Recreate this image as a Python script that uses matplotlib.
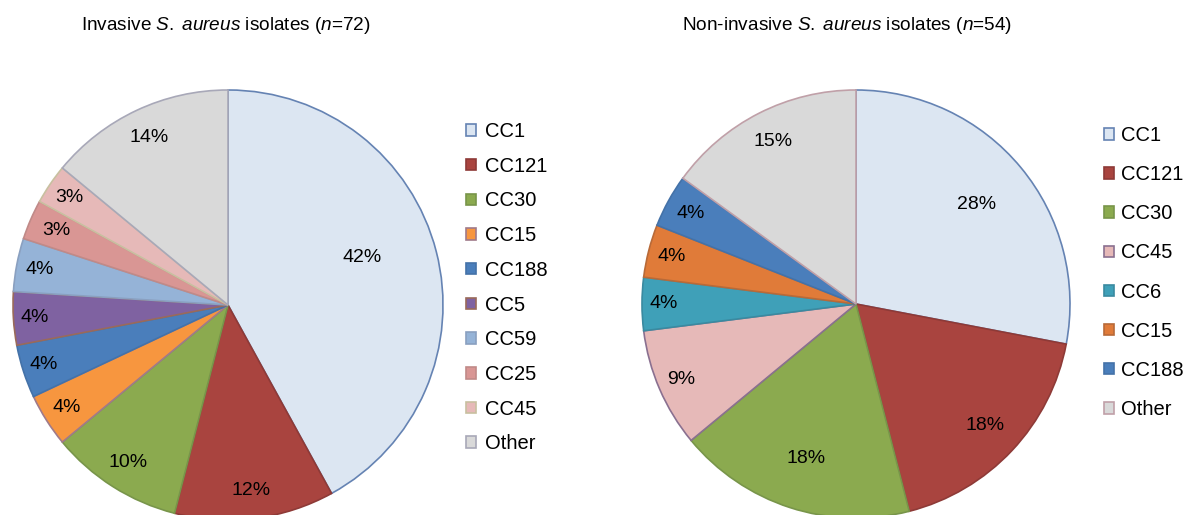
import matplotlib.pyplot as plt
import numpy as np

plt.rcParams['font.family'] = ['Liberation Sans', 'DejaVu Sans']
plt.rcParams['mathtext.fontset'] = 'custom'
plt.rcParams['mathtext.rm'] = 'Liberation Sans'
plt.rcParams['mathtext.it'] = 'Liberation Sans:italic'

W, H = 1183, 515

# invasive isolates
inv_labels = ['CC1', 'CC121', 'CC30', 'CC15', 'CC188', 'CC5', 'CC59', 'CC25', 'CC45', 'Other']
inv_pct = [42, 12, 10, 4, 4, 4, 4, 3, 3, 14]
inv_colors = ['#dce6f2', '#a9443f', '#8baa4f', '#f7963f', '#4a7ebb',
              '#7f62a1', '#95b3d7', '#d99694', '#e6b9b8', '#d9d9d9']
inv_edges = ['#6583b3', '#8e3a37', '#78954a', '#a07a8a', '#4472a8',
             '#9a6a5a', '#8aa0c0', '#c08a88', '#c8c0a0', '#a8a8b8']
# label distance (fraction of radius) and angle nudge (deg)
inv_dist = [0.66, 0.87, 0.87, 0.89, 0.9, 0.9, 0.89, 0.87, 0.89, 0.86]
inv_nudge = [5, 0, 0, 0, 0, 0, 0, 0, 0, 0]

# non-invasive isolates
non_labels = ['CC1', 'CC121', 'CC30', 'CC45', 'CC6', 'CC15', 'CC188', 'Other']
non_pct = [28, 18, 18, 9, 4, 4, 4, 15]
non_colors = ['#dce6f2', '#a9443f', '#8baa4f', '#e6b9b8', '#3fa0b8',
              '#e07b39', '#4a7ebb', '#d9d9d9']
non_edges = ['#6583b3', '#8e3a37', '#78954a', '#8a7090', '#3a8aa0',
             '#b86a38', '#4472a8', '#c0a0a8']
non_dist = [0.73, 0.83, 0.76, 0.89, 0.9, 0.89, 0.88, 0.85]
non_nudge = [0, 0, 0, 0, 0, 0, 0, 0]

fig = plt.figure(figsize=(W / 100, H / 100), dpi=100)


def draw_pie(cx, cy, r, pcts, colors, edges, dists, nudges):
    ax = fig.add_axes([(cx - r) / W, (H - cy - r) / H, 2 * r / W, 2 * r / H])
    wedges, _ = ax.pie(pcts, colors=colors, startangle=90, counterclock=False,
                       radius=1, wedgeprops=dict(linewidth=1.2))
    for w, ec, p, d, n in zip(wedges, edges, pcts, dists, nudges):
        w.set_edgecolor(ec)
        w.set_clip_on(False)
        a = np.deg2rad((w.theta1 + w.theta2) / 2 + n)
        ax.text(d * np.cos(a), d * np.sin(a), f"{p}%", ha='center', va='center', fontsize=14)
    ax.set_xlim(-1, 1)
    ax.set_ylim(-1, 1)
    ax.set_aspect('equal')
    ax.axis('off')
    return wedges


w1 = draw_pie(228, 305, 215, inv_pct, inv_colors, inv_edges, inv_dist, inv_nudge)
w2 = draw_pie(856, 304, 214, non_pct, non_colors, non_edges, non_dist, non_nudge)

fig.text(226 / W, 1 - 25 / H, r"Invasive $\mathit{S.\;aureus}$ isolates ($\mathit{n}$=72)",
         ha='center', va='center', fontsize=13.7)
fig.text(847 / W, 1 - 25 / H, r"Non-invasive $\mathit{S.\;aureus}$ isolates ($\mathit{n}$=54)",
         ha='center', va='center', fontsize=13.7)

fig.legend(handles=w1, labels=inv_labels, loc='upper left', bbox_to_anchor=(466 / W, 1 - 122 / H),
           frameon=False, fontsize=14.5, handlelength=0.5, handleheight=0.5, handletextpad=0.45,
           labelspacing=0.78, borderpad=0, borderaxespad=0)
fig.legend(handles=w2, labels=non_labels, loc='upper left', bbox_to_anchor=(1104 / W, 1 - 126 / H),
           frameon=False, fontsize=14.5, handlelength=0.5, handleheight=0.5, handletextpad=0.35,
           labelspacing=1.0, borderpad=0, borderaxespad=0)

fig.savefig('out.png', dpi=100)
